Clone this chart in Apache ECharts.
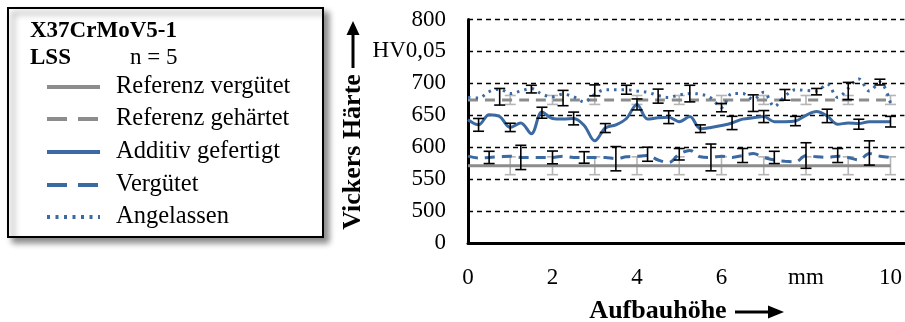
<!DOCTYPE html>
<html>
<head>
<meta charset="utf-8">
<script src="https://cdn.jsdelivr.net/npm/echarts@6/dist/echarts.min.js"></script>
<style>
  html, body { margin: 0; padding: 0; background: #fff; }
  #chart { width: 905px; height: 322px; }
</style>
</head>
<body>
<div id="chart"></div>
<script>
// Messpositionen (mm), Raster 0,25 mm
let posMm = [0, 0.25, 0.5, 0.75, 1, 1.25, 1.5, 1.75, 2, 2.25, 2.5, 2.75, 3, 3.25, 3.5, 3.75, 4, 4.25, 4.5, 4.75, 5,
  5.25, 5.5, 5.75, 6, 6.25, 6.5, 6.75, 7, 7.25, 7.5, 7.75, 8, 8.25, 8.5, 8.75, 9, 9.25, 9.5, 9.75, 10]

// Härteverläufe (HV0,05)
let additiv = [643, 635, 651, 648, 631, 638, 621, 655, 645, 644, 645, 634, 610, 630, 635, 645, 667, 644, 646, 647, 640,
  648, 629, 631, 634, 638, 644, 646, 648, 640, 640, 641, 650, 656, 649, 636, 638, 637, 640, 640, 640]
let verguetet = [586, 583, 584, 585, 586, 584, 584, 584, 584, 586, 584, 584, 584, 584, 582, 585, 586, 587, 580, 576, 589,
  595, 585, 584, 586, 584, 587, 590, 584, 580, 578, 577, 587, 585, 584, 586, 584, 580, 590, 586, 584]
let angelassen = [678, 677, 687, 691, 684, 688, 692, 683, 679, 683, 679, 671, 683, 690, 690, 690, 688, 686, 681, 678, 682,
  684, 683, 677, 662, 684, 684, 675, 686, 664, 680, 690, 689, 688, 699, 678, 692, 707, 688, 702, 669]

// Referenzen
let refPos = [0, 1, 2, 3, 4, 5, 6, 7, 8, 9, 10]
let refVerguetet = [571, 571, 571, 571, 571, 571, 571, 571, 571, 571, 571]
let refGehaertet = [674, 674, 674, 674, 674, 674, 674, 674, 674, 674, 674]
let refErrPos = [1, 2, 3, 4, 5, 6, 7, 8, 9, 10]
let refVerguetetErr = [14, 14, 14, 14, 14, 14, 14, 14, 14, 14]
let refGehaertetErr = [7, 7, 7, 7, 7, 7, 7, 7, 7, 7]

// Fehlerbalken (Mittelwert +- Standardabweichung)
let additivErrPos = [0.25, 1, 1.75, 2.5, 3.25, 4, 4.75, 5.5, 6.25, 7, 7.75, 8.5, 9.25, 10]
let additivErrMean = [635, 631, 654, 645, 630, 667, 647, 629, 638, 648, 641, 649, 636, 640]
let additivErr = [10, 6.5, 8.6, 10, 7, 8.6, 10, 6, 10.4, 9.4, 7.3, 10.5, 7.8, 8.3]

let verguetetErrPos = [0.5, 1.25, 2, 2.75, 3.5, 4.25, 5, 5.75, 6.5, 7.25, 8, 8.75, 9.5]
let verguetetErrMean = [584, 584, 584, 584, 582, 589, 589, 584, 587, 584, 587, 587, 591]
let verguetetErr = [9.6, 19, 10, 9, 19, 11, 9, 21, 11, 9.6, 20, 11, 19]

let angelassenErrPos = [0.75, 1.5, 2.25, 3, 3.75, 4.5, 5.25, 6, 6.75, 7.5, 8.25, 9, 9.75]
let angelassenErrMean = [679, 691, 677, 689, 690, 680, 684, 662, 669, 682, 687, 688, 702]
let angelassenErr = [13, 6, 12, 8.6, 7, 11, 13, 6.5, 13, 8.4, 5, 13.5, 4.5]

// Achsenbeschriftung (Achse unterbrochen: unterste Linie = 0)
let yTicks = [450, 500, 550, 600, 650, 700, 750, 800]
let yTickText = ['0', '500', '550', '600', '650', '700', 'HV0,05', '800']
let xTicks = [0, 2, 4, 6, 8, 10]
let xTickText = ['0', '2', '4', '6', 'mm', '10']

let legendNames = ['Referenz vergütet', 'Referenz gehärtet', 'Additiv gefertigt', 'Vergütet', 'Angelassen']

let BLUE = '#3b69a1'
let GRAY = '#8c8c8c'
let LIGHTGRAY = '#b5b5b5'
let FONT = 'Liberation Serif'

let zip = function (xs, ys) {
  return xs.map((x, i) => [x, ys[i]])
}
let errData = function (xs, mean, err) {
  return xs.map((x, i) => [x, mean[i] - err[i], mean[i] + err[i]])
}
let errRender = function (capW) {
  return function (params, api) {
    let x = api.value(0)
    let lo = api.coord([x, api.value(1)])
    let hi = api.coord([x, api.value(2)])
    let style = { stroke: api.visual('color'), lineWidth: 1.6 }
    return {
      type: 'group',
      children: [
        { type: 'line', shape: { x1: lo[0], y1: lo[1], x2: hi[0], y2: hi[1] }, style: style },
        { type: 'line', shape: { x1: lo[0] - capW / 2, y1: lo[1], x2: lo[0] + capW / 2, y2: lo[1] }, style: style },
        { type: 'line', shape: { x1: hi[0] - capW / 2, y1: hi[1], x2: hi[0] + capW / 2, y2: hi[1] }, style: style }
      ]
    }
  }
}
let errSeries = function (data, color, z) {
  return {
    type: 'custom',
    data: data,
    itemStyle: { color: color },
    encode: { x: 0, y: [1, 2] },
    renderItem: errRender(11),
    silent: true,
    z: z
  }
}
let lineSeries = function (name, data, color, type, width) {
  return {
    name: name,
    type: 'line',
    data: data,
    smooth: 0.35,
    showSymbol: false,
    lineStyle: { color: color, width: width, type: type },
    silent: true,
    z: 3
  }
}

// Legende als Grafik
let legendStyles = [
  { color: GRAY, type: 'solid' },
  { color: GRAY, type: [20, 11] },
  { color: BLUE, type: 'solid' },
  { color: BLUE, type: [20, 11] },
  { color: BLUE, type: [3, 5.5] }
]
let legendRowY = [87, 119, 152, 185, 217]
let graphics = [
  {
    type: 'rect', shape: { x: 8, y: 8, width: 315, height: 229 },
    style: { fill: '#fff', stroke: '#000', lineWidth: 2, shadowBlur: 6, shadowOffsetX: 5, shadowOffsetY: 5, shadowColor: 'rgba(0,0,0,0.45)' }
  },
  { type: 'text', x: 30, y: 31, style: { text: 'X37CrMoV5-1', font: 'bold 23px ' + FONT, fill: '#000', textVerticalAlign: 'middle' } },
  { type: 'text', x: 30, y: 58, style: { text: 'LSS', font: 'bold 23px ' + FONT, fill: '#000', textVerticalAlign: 'middle' } },
  { type: 'text', x: 130, y: 58, style: { text: 'n = 5', font: '23px ' + FONT, fill: '#000', textVerticalAlign: 'middle' } },
  // Achsentitel
  { type: 'text', x: 353, y: 152, rotation: Math.PI / 2, style: { text: 'Vickers Härte', font: 'bold 26px ' + FONT, fill: '#000', textAlign: 'center', textVerticalAlign: 'middle' } },
  { type: 'line', shape: { x1: 353, y1: 68, x2: 353, y2: 33 }, style: { stroke: '#000', lineWidth: 3 } },
  { type: 'polygon', shape: { points: [[346.5, 35], [359.5, 35], [353, 21]] }, style: { fill: '#000' } },
  { type: 'text', x: 658, y: 311, style: { text: 'Aufbauhöhe', font: 'bold 26px ' + FONT, fill: '#000', textAlign: 'center', textVerticalAlign: 'middle' } },
  { type: 'line', shape: { x1: 735, y1: 312, x2: 770, y2: 312 }, style: { stroke: '#000', lineWidth: 3 } },
  { type: 'polygon', shape: { points: [[768, 305.5], [768, 318.5], [784, 312]] }, style: { fill: '#000' } }
]
legendNames.forEach((name, i) => {
  graphics.push({
    type: 'line', shape: { x1: 47, y1: legendRowY[i], x2: 100, y2: legendRowY[i] },
    style: { stroke: legendStyles[i].color, lineWidth: 4, lineDash: legendStyles[i].type === 'solid' ? null : legendStyles[i].type }
  })
  graphics.push({
    type: 'text', x: 116, y: legendRowY[i],
    style: { text: name, font: '24.5px ' + FONT, fill: '#000', textVerticalAlign: 'middle' }
  })
})

let chartOption = {
  animation: false,
  backgroundColor: '#fff',
  grid: { left: 468, right: 0, top: 19.5, bottom: 79, containLabel: false },
  xAxis: {
    type: 'value',
    min: 0,
    max: 10.33,
    interval: 2,
    axisLine: { show: true, onZero: false, lineStyle: { color: '#000', width: 3 } },
    axisTick: { show: false },
    splitLine: { show: false },
    axisLabel: {
      margin: 23,
      showMaxLabel: false,
      fontFamily: FONT,
      fontSize: 23,
      color: '#000',
      formatter: function (v) {
        let i = xTicks.indexOf(v)
        return i >= 0 ? xTickText[i] : ''
      }
    }
  },
  yAxis: {
    type: 'value',
    min: yTicks[0],
    max: yTicks[yTicks.length - 1],
    interval: 50,
    axisLine: { show: true, lineStyle: { color: '#000', width: 3 } },
    axisTick: { show: false },
    splitLine: { show: true, lineStyle: { color: '#000', width: 1.3, type: [5, 4] } },
    axisLabel: {
      margin: 22,
      fontFamily: FONT,
      fontSize: 23,
      color: '#000',
      formatter: function (v) {
        let i = yTicks.indexOf(v)
        return i >= 0 ? yTickText[i] : ''
      }
    }
  },
  graphic: graphics,
  series: [
    errSeries(errData(refErrPos, refVerguetet.slice(1), refVerguetetErr), LIGHTGRAY, 2),
    errSeries(errData(refErrPos, refGehaertet.slice(1), refGehaertetErr), LIGHTGRAY, 2),
    lineSeries(legendNames[0], zip(refPos, refVerguetet), GRAY, 'solid', 3),
    lineSeries(legendNames[1], zip(refPos, refGehaertet), GRAY, [10, 7], 3),
    lineSeries(legendNames[2], zip(posMm, additiv), BLUE, 'solid', 3),
    lineSeries(legendNames[3], zip(posMm, verguetet), BLUE, [10, 7], 3),
    lineSeries(legendNames[4], zip(posMm, angelassen), BLUE, [2.5, 5], 3),
    errSeries(errData(additivErrPos, additivErrMean, additivErr), '#000', 4),
    errSeries(errData(verguetetErrPos, verguetetErrMean, verguetetErr), '#000', 4),
    errSeries(errData(angelassenErrPos, angelassenErrMean, angelassenErr), '#000', 4)
  ]
}

let chartInstance = echarts.init(document.querySelector('#chart'))
chartInstance.setOption(chartOption)
</script>
</body>
</html>
